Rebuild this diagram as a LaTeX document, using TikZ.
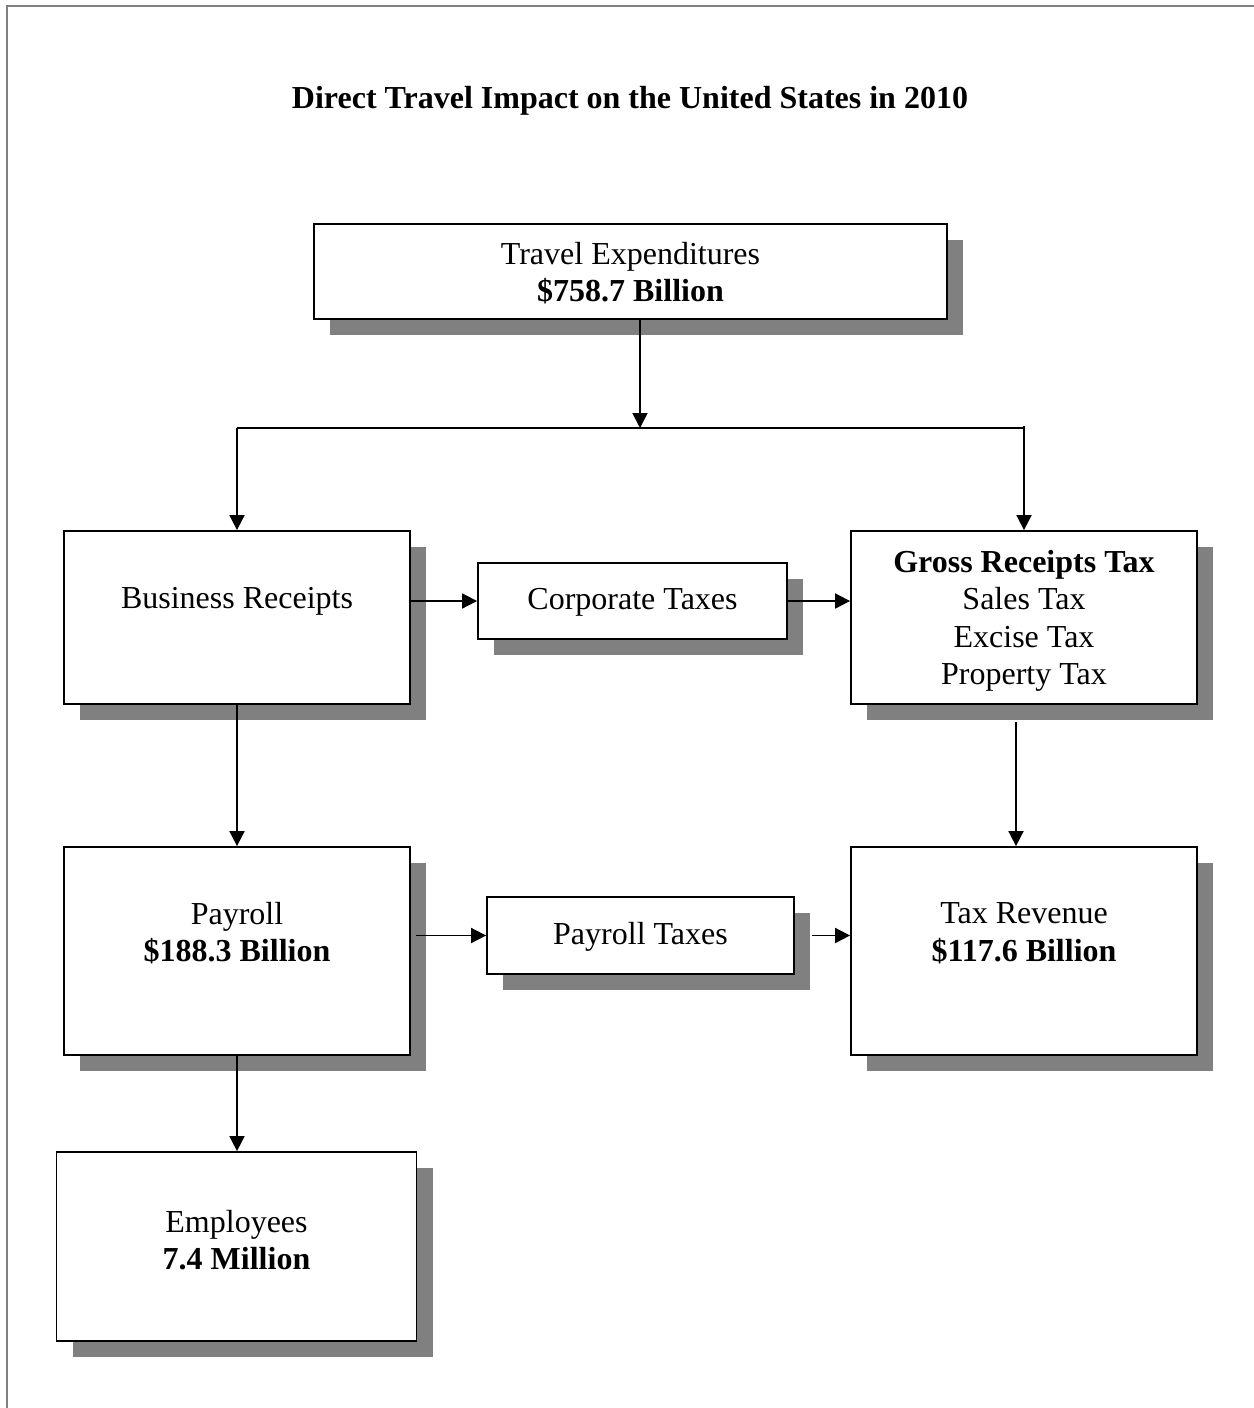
\documentclass[tikz,border=0pt]{standalone}
\usepackage{fontspec}
\setmainfont{Liberation Serif}
\usetikzlibrary{arrows.meta,shadows}
\definecolor{shadowgray}{RGB}{128,128,128}
\definecolor{framegray}{RGB}{128,128,128}
\begin{document}
\begin{tikzpicture}[x=1pt,y=-1pt,
  box/.style={draw, line width=1.8pt, fill=white, inner sep=0pt,
    drop shadow={shadow xshift=16pt, shadow yshift=-16pt, opacity=1, fill=shadowgray}},
  lbl/.style={align=center, inner sep=0pt, font=\fontsize{32}{37.5}\selectfont},
  arr/.style={-{Triangle[length=15pt,width=15pt]}, line width=1.8pt},
  plain/.style={line width=1.8pt}]
\useasboundingbox (0,0) rectangle (1253,1408);
\draw[framegray, line width=2.5pt] (7,1430) -- (7,6) -- (1275,6);

\node[lbl] (title) at (630,101) {\textbf{Direct Travel Impact on the United States in 2010}};

% boxes
\node[box, minimum width=633pt, minimum height=95pt] (travel) at (630.5,271.5) {};
\node[box, minimum width=346pt, minimum height=173pt] (business) at (237,617.5) {};
\node[box, minimum width=309pt, minimum height=76pt] (corp) at (632.5,601) {};
\node[box, minimum width=346pt, minimum height=173pt] (gross) at (1024,617.5) {};
\node[box, minimum width=346pt, minimum height=208pt] (payroll) at (237,951) {};
\node[box, minimum width=307pt, minimum height=77pt] (ptax) at (640.5,935.5) {};
\node[box, minimum width=346pt, minimum height=208pt] (taxrev) at (1024,951) {};
\node[box, minimum width=360pt, minimum height=189pt] (empl) at (236.5,1246.5) {};

% texts
\node[lbl] (travelT) at (630.5,273) {Travel Expenditures\\\textbf{\$758.7 Billion}};
\node[lbl] (businessT) at (237,601) {Business Receipts};
\node[lbl] (corpT) at (632.5,602) {Corporate Taxes};
\node[lbl] (grossT) at (1024,621) {\textbf{Gross Receipts Tax}\\Sales Tax\\Excise Tax\\Property Tax};
\node[lbl] (payrollT) at (237,933) {Payroll\\\textbf{\$188.3 Billion}};
\node[lbl] (ptaxT) at (640.5,937) {Payroll Taxes};
\node[lbl] (taxrevT) at (1024,933) {Tax Revenue\\\textbf{\$117.6 Billion}};
\node[lbl] (emplT) at (236.5,1240) {Employees\\\textbf{7.4 Million}};

% connectors
\coordinate (split) at (640,428);
\coordinate (splitL) at (237,428);
\coordinate (splitR) at (1024,428);
\draw[arr] (travel.south -| split) -- (split);
\draw[plain] (splitL) -- (splitR);
\draw[plain] (splitR) -- ++(0,-2);
\draw[arr] (splitL) -- (business.north);
\draw[arr] (splitR) -- (gross.north);
\draw[arr] (corp.west -| business.east) -- (corp.west);
\draw[arr] (corp.east) -- (corp.east -| gross.west);
\draw[arr] (business.south) -- (payroll.north);
\coordinate (g1) at ([shift={(-8pt,-17pt)}]gross.south);
\draw[arr] (g1) -- (g1 |- taxrev.north);
\coordinate (p1) at ([xshift=5pt]payroll.east |- ptax.west);
\draw[arr] (p1) -- (ptax.west);
\coordinate (p2) at ([xshift=17pt]ptax.east);
\draw[arr] (p2) -- (p2 -| taxrev.west);
\draw[arr] (payroll.south) -- (payroll.south |- empl.north);
\end{tikzpicture}
\end{document}
